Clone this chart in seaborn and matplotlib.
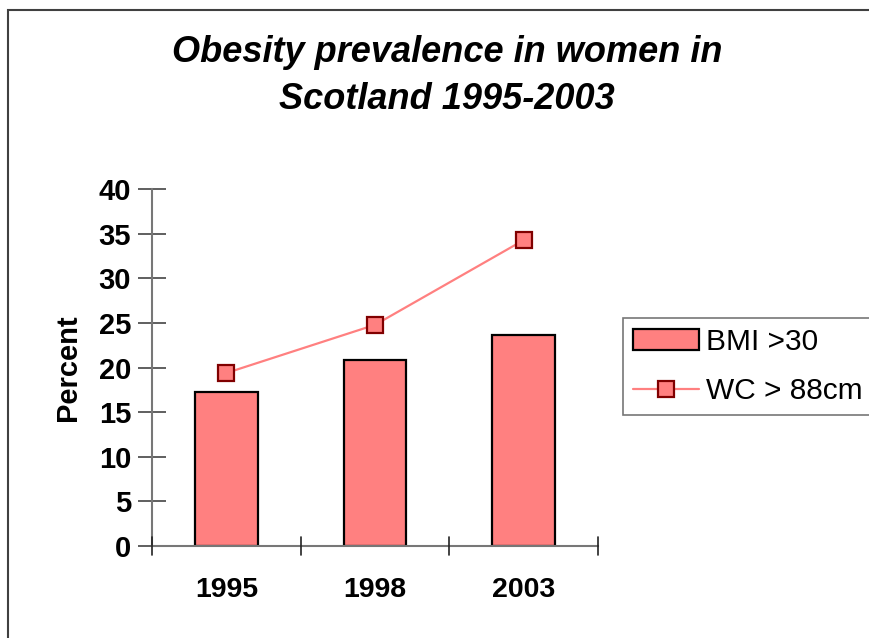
import matplotlib
matplotlib.use("Agg")
import matplotlib.pyplot as plt
import seaborn as sns
import numpy as np
import pandas as pd
from matplotlib.patches import Patch, Rectangle
from matplotlib.lines import Line2D

years = ["1995", "1998", "2003"]
bmi_over_30 = [17.3, 20.9, 23.7]
wc_over_88 = [19.4, 24.8, 34.3]
yticks = [0, 5, 10, 15, 20, 25, 30, 35, 40]

sns.set_theme(style="white")
plt.rcParams["font.family"] = ["Liberation Sans", "DejaVu Sans"]
plt.rcParams["text.color"] = "black"
plt.rcParams["axes.labelcolor"] = "black"
plt.rcParams["xtick.color"] = "black"
plt.rcParams["ytick.color"] = "black"

W, H = 870, 638
fig = plt.figure(figsize=(W / 100, H / 100), dpi=100)
ax = fig.add_axes([152 / W, 1 - 546 / H, (598 - 152) / W, (546 - 189.3) / H])

df = pd.DataFrame({"year": years, "bmi": bmi_over_30, "wc": wc_over_88})
sns.barplot(data=df, x="year", y="bmi", ax=ax, color="#FF8080", saturation=1,
            width=0.42, edgecolor="black", linewidth=1.6)
xpos = np.arange(len(years))
ax.plot(xpos, df["wc"], color="#FF8080", lw=1.6, marker="s", markersize=11,
        markerfacecolor="#FF8080", markeredgecolor="#800000", markeredgewidth=1.6,
        zorder=5)

ax.set_xlim(-0.5, len(years) - 0.5)
ax.set_ylim(0, 40)
ax.set_yticks(yticks)
ax.set_yticklabels([str(v) for v in yticks], fontsize=21, fontweight="bold", color="black")
ax.set_xticks(xpos)
ax.set_xticklabels(years, fontsize=20.5, fontweight="bold", color="black")
ax.tick_params(axis="x", length=0, pad=22)
ax.tick_params(axis="y", direction="inout", length=20, width=1.2, color="#444444", pad=5, left=True)
# category boundary ticks on x axis
for b in np.arange(len(years) + 1) - 0.5:
    ax.plot([b, b], [-1.05, 1.05], color="#222222", lw=1.2, clip_on=False, zorder=6)

ax.set_xlabel("")
ax.set_ylabel("Percent", fontsize=21, fontweight="bold", labelpad=12, color="black")
for s in ["top", "right"]:
    ax.spines[s].set_visible(False)
for s in ["left", "bottom"]:
    ax.spines[s].set_color("#777777")
    ax.spines[s].set_linewidth(1.5)
ax.grid(False)

handles = [Patch(facecolor="#FF8080", edgecolor="black", linewidth=1.6),
           Line2D([0], [0], color="#FF8080", lw=1.6, marker="s", markersize=11,
                  markerfacecolor="#FF8080", markeredgecolor="#800000", markeredgewidth=1.6)]
leg = fig.legend(handles, ["BMI >30", "WC > 88cm"], loc="upper left",
                 bbox_to_anchor=(623 / W, 1 - 318 / H), bbox_transform=fig.transFigure,
                 borderaxespad=0, fontsize=21.5, frameon=True, fancybox=False,
                 edgecolor="#555555", handlelength=2.2, handletextpad=0.25,
                 labelspacing=0.72, borderpad=0.33)
leg.get_frame().set_linewidth(1.2)
leg.get_frame().set_facecolor("white")
for t in leg.get_texts():
    t.set_color("black")

fig.text(447 / W, 1 - 76 / H, "Obesity prevalence in women in\nScotland 1995-2003",
         ha="center", va="center", fontsize=26, fontweight="bold", style="italic",
         linespacing=1.42, color="black")

fig.patches.append(Rectangle((8 / W, -0.1), 1.2, 1 - 10 / H + 0.1, transform=fig.transFigure,
                             fill=False, edgecolor="#404040", linewidth=1.5))

fig.savefig("out.png", dpi=100)
